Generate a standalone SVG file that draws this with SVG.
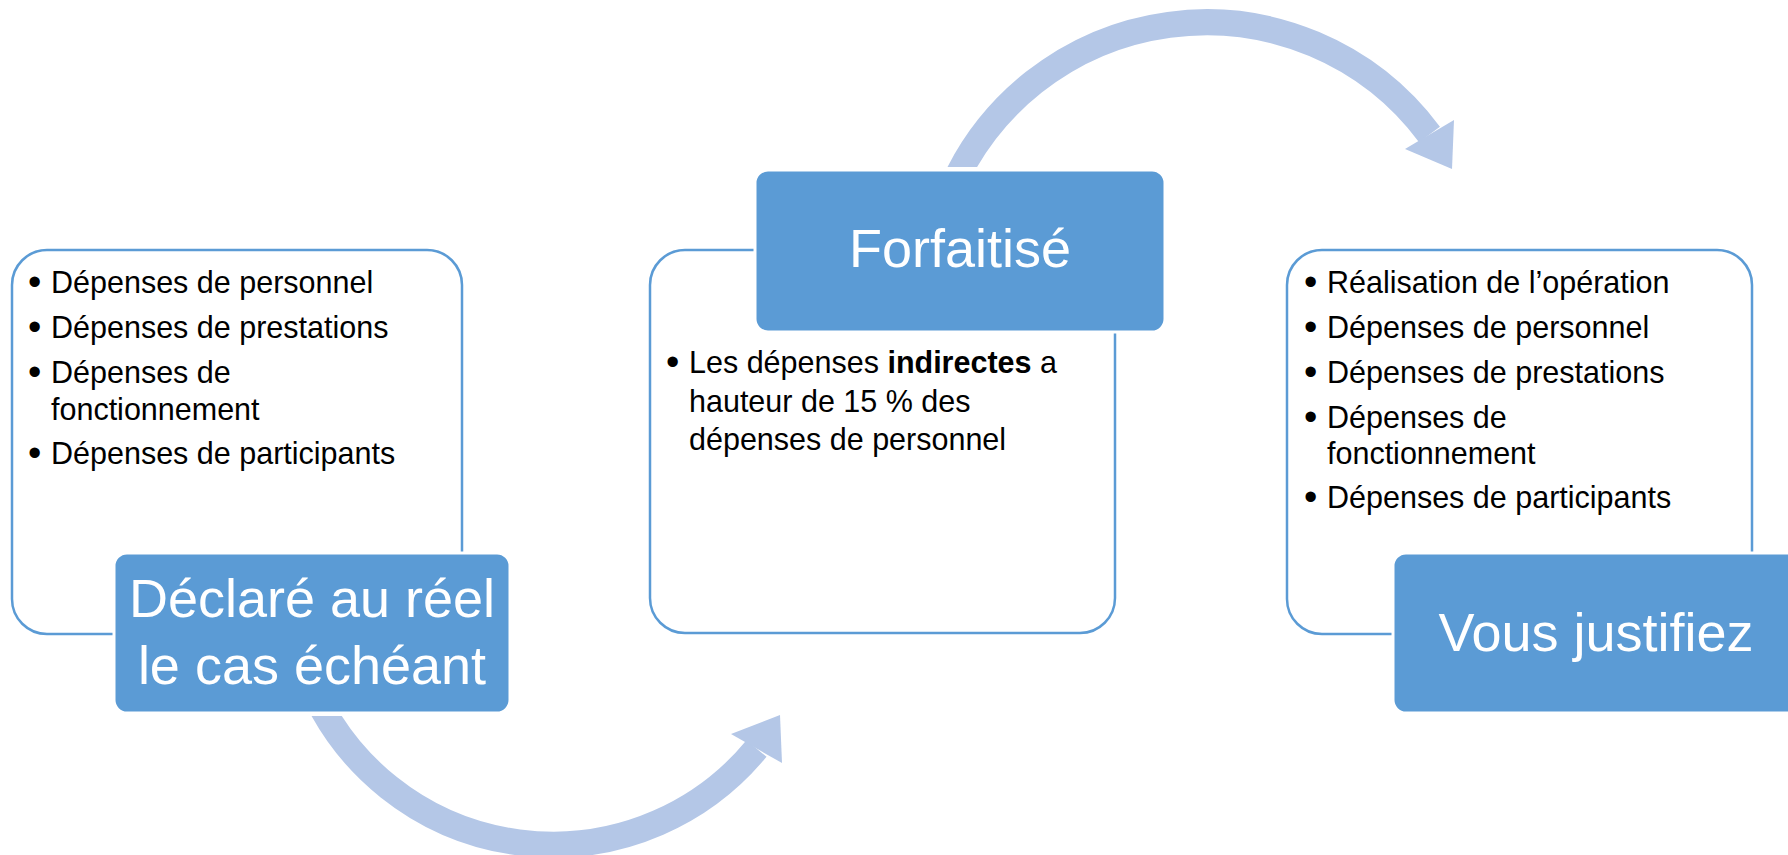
<svg xmlns="http://www.w3.org/2000/svg" width="1788" height="855" viewBox="0 0 1788 855">
<style>
.card{fill:#FFFFFF;stroke:#5B9BD5;stroke-width:2.5}
.head{fill:#5B9BD5;stroke:#FFFFFF;stroke-width:3}
.title{font-family:"Liberation Sans",Arial,sans-serif;font-size:54px;fill:#FFFFFF;text-anchor:middle}
.body{font-family:"Liberation Sans",Arial,sans-serif;font-size:30.5px;fill:#000000}
.bul{font-family:"Liberation Sans",Arial,sans-serif;font-size:38px;fill:#000000}
.arc{fill:none;stroke:#B4C7E7;stroke-width:26}
.tip{fill:#B4C7E7}
</style>
<defs>
<clipPath id="clipTop"><rect x="0" y="0" width="1788" height="167"/></clipPath>
<clipPath id="clipBottom"><rect x="0" y="716" width="1788" height="139"/></clipPath>
</defs>
<rect width="1788" height="855" fill="#FFFFFF"/>
<g id="connectors">
<path class="arc" clip-path="url(#clipBottom)" d="M313,690 A263.5,263.5 0 0 0 756.5,748.5"/>
<polygon class="tip" points="731,734 782,763 780,715"/>
<path class="arc" clip-path="url(#clipTop)" d="M947,200 A278,278 0 0 1 1429.5,134.5"/>
<polygon class="tip" points="1405,149 1454,120 1452,169"/>
</g>
<g id="node-declare">
<rect class="card" x="12" y="250" width="450" height="384" rx="35"/>
<text class="bul" x="28" y="295">•</text><text class="body" x="51" y="293">Dépenses de personnel</text>
<text class="bul" x="28" y="340">•</text><text class="body" x="51" y="338">Dépenses de prestations</text>
<text class="bul" x="28" y="385">•</text><text class="body" x="51" y="383">Dépenses de</text>
<text class="body" x="51" y="420">fonctionnement</text>
<text class="bul" x="28" y="466">•</text><text class="body" x="51" y="464">Dépenses de participants</text>
<rect class="head" x="114" y="553" width="396" height="160" rx="13"/>
<text class="title" x="312" y="617">Déclaré au réel</text>
<text class="title" x="312" y="684">le cas échéant</text>
</g>
<g id="node-forfaitise">
<rect class="card" x="650" y="250" width="465" height="383" rx="35"/>
<rect class="head" x="755" y="170" width="410" height="162" rx="13"/>
<text class="title" x="960" y="267">Forfaitisé</text>
<text class="bul" x="666" y="375">•</text><text class="body" x="689" y="373">Les dépenses <tspan font-weight="bold">indirectes</tspan> a</text>
<text class="body" x="689" y="412">hauteur de 15 % des</text>
<text class="body" x="689" y="450">dépenses de personnel</text>
</g>
<g id="node-justifiez">
<rect class="card" x="1287" y="250" width="465" height="384" rx="35"/>
<text class="bul" x="1304" y="295">•</text><text class="body" x="1327" y="293">Réalisation de l’opération</text>
<text class="bul" x="1304" y="340">•</text><text class="body" x="1327" y="338">Dépenses de personnel</text>
<text class="bul" x="1304" y="385">•</text><text class="body" x="1327" y="383">Dépenses de prestations</text>
<text class="bul" x="1304" y="430">•</text><text class="body" x="1327" y="428">Dépenses de</text>
<text class="body" x="1327" y="464">fonctionnement</text>
<text class="bul" x="1304" y="510">•</text><text class="body" x="1327" y="508">Dépenses de participants</text>
<rect class="head" x="1393" y="553" width="410" height="160" rx="13"/>
<text class="title" x="1596" y="651">Vous justifiez</text>
</g>
</svg>
